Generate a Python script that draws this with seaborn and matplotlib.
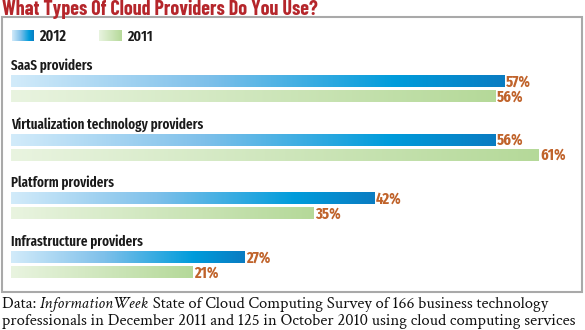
import numpy as np
import pandas as pd
import matplotlib
matplotlib.use("Agg")
import matplotlib.pyplot as plt
from matplotlib import font_manager as fm
from matplotlib.colors import LinearSegmentedColormap
from matplotlib.patches import Rectangle
import seaborn as sns

# ---- data ----
categories = ["SaaS providers", "Virtualization technology providers",
              "Platform providers", "Infrastructure providers"]
years = ["2012", "2011"]
values_2012 = [57, 56, 42, 27]
values_2011 = [56, 61, 35, 21]
title = "What Types Of Cloud Providers Do You Use?"
note_parts = [("Data: ", "normal"), ("InformationWeek", "italic"),
              (" State of Cloud Computing Survey of 166 business technology", "normal")]
note_line2 = "professionals in December 2011 and 125 in October 2010 using cloud computing services"

df = pd.DataFrame({
    "category": categories * 2,
    "year": [years[0]] * len(categories) + [years[1]] * len(categories),
    "value": values_2012 + values_2011,
})

sns.set_theme(style="white")
names = {f.name for f in fm.fontManager.ttflist}

def pick(cands, default):
    for c in cands:
        if c in names:
            return c
    return default

COND = pick(["Fira Sans Extra Condensed", "Barlow Condensed", "PT Sans Narrow",
             "Roboto Condensed", "Liberation Sans Narrow"], "DejaVu Sans")
TITLE_FONT = pick(["Barlow Condensed", "Fira Sans Extra Condensed"], COND)
SERIF = pick(["Crimson Text", "Crimson Pro", "EB Garamond", "Liberation Serif"], "DejaVu Serif")
plt.rcParams["font.family"] = [COND, "DejaVu Sans"]

W, H = 585, 330
fig = plt.figure(figsize=(W / 100, H / 100), dpi=100)
fig.patch.set_facecolor("white")
fig.canvas.draw()
R = fig.canvas.get_renderer()

def fit(t, target_px):
    w = t.get_window_extent(R).width
    t.set_fontsize(t.get_fontsize() * target_px / w)
    return t

# axes: x=0 at px 11, 8.65 px per percent; y from px 17 to 292
ax_left, ax_top, ax_bot = 11, 17, 292
ppx = 8.65
xmax = (582 - ax_left) / ppx
ax = fig.add_axes([ax_left / W, 1 - ax_bot / H, (582 - ax_left) / W, (ax_bot - ax_top) / H])
ax.patch.set_alpha(0)

blue_end = "#0a7fc6"
green_end = "#b7da9c"
sns.barplot(data=df, y="category", x="value", hue="year", hue_order=years,
            order=categories, orient="h", palette=[blue_end, green_end],
            width=0.511, gap=0.2, legend=False, ax=ax, saturation=1)

ppu = 58.67
ylo = (ax_top - 88.5) / ppu
yhi = (ax_bot - 88.5) / ppu

def reset():
    ax.set_xlim(0, xmax)
    ax.set_ylim(yhi, ylo)
reset()

cmap_blue = LinearSegmentedColormap.from_list(
    "b", [(0, "#d2ebfa"), (0.4, "#7ec0ea"), (0.78, "#009cdb"), (1, "#0a7cc2")])
cmap_green = LinearSegmentedColormap.from_list(
    "g", [(0, "#e9f4e0"), (1, "#b5d999")])
grad = np.linspace(0, 1, 256).reshape(1, -1)

value_color = "#c0632b"
ref = fig.text(0, 0, "57%", fontsize=10, fontweight="bold")
fit(ref, 25)
vsize = ref.get_fontsize()
ref.remove()

for cont, cmap in zip(ax.containers, [cmap_blue, cmap_green]):
    for bar in cont:
        x0, y0 = bar.get_x(), bar.get_y()
        w, h = bar.get_width(), bar.get_height()
        ax.imshow(grad, cmap=cmap, aspect="auto", extent=[x0, x0 + w, y0 + h, y0],
                  zorder=2, interpolation="bilinear")
        bar.set_alpha(0)
        ax.text(x0 + w + 0.2, y0 + h / 2 + 5.3 / ppu, f"{int(round(w))}%",
                color=value_color, fontsize=vsize, fontweight="bold",
                va="baseline", ha="left", zorder=3)
reset()

ref = fig.text(0, 0, categories[1], fontsize=10, fontweight="semibold")
fit(ref, 193)
lsize = ref.get_fontsize()
ref.remove()
for i, cat in enumerate(categories):
    ax.text(0, i - 18.5 / ppu, cat, fontsize=lsize, color="#1a1a1a", va="baseline",
            ha="left", fontweight="semibold")

# legend
ly0, ly1 = (30 - 88.5) / ppu, (41 - 88.5) / ppu
lbase = (40.7 - 88.5) / ppu
ax.imshow(grad, cmap=cmap_blue, aspect="auto",
          extent=[(12 - ax_left) / ppx, (34 - ax_left) / ppx, ly1, ly0], zorder=2, clip_on=False)
t = ax.text((39 - ax_left) / ppx, lbase, years[0], fontsize=10, fontweight="semibold",
            color="#1a1a1a", va="baseline", ha="left")
fit(t, 27)
ax.imshow(grad, cmap=cmap_green, aspect="auto",
          extent=[(99 - ax_left) / ppx, (121 - ax_left) / ppx, ly1, ly0], zorder=2, clip_on=False)
t = ax.text((127 - ax_left) / ppx, lbase, years[1], fontsize=10, fontweight="semibold",
            color="#1a1a1a", va="baseline", ha="left")
fit(t, 26)
reset()

ax.set_xlabel("")
ax.set_ylabel("")
ax.set_xticks([])
ax.set_yticks([])
for s in ax.spines.values():
    s.set_visible(False)

# box
fig.patches.append(Rectangle((2 / W, 1 - 292 / H), 580 / W, 275 / H,
                             transform=fig.transFigure, fill=False,
                             edgecolor="#a9a9a9", linewidth=1.5))

# title
t = fig.text(2 / W, 1 - 15 / H, title, fontsize=14, fontweight="bold", color="#b5262b",
             va="baseline", ha="left", family=[TITLE_FONT, "DejaVu Sans"])
fit(t, 316)

# footnote
t2 = fig.text(2 / W, 1 - 325 / H, note_line2, fontsize=10.5, family=SERIF,
              color="#111111", va="baseline", ha="left")
fit(t2, 574)
fsize = t2.get_fontsize()
x = 2 / W
for txt, style in note_parts:
    t = fig.text(x, 1 - 308 / H, txt, fontsize=fsize, style=style, family=SERIF,
                 color="#111111", va="baseline", ha="left")
    bb = t.get_window_extent(R)
    x = bb.x1 / W

fig.savefig("out.png", dpi=100)
